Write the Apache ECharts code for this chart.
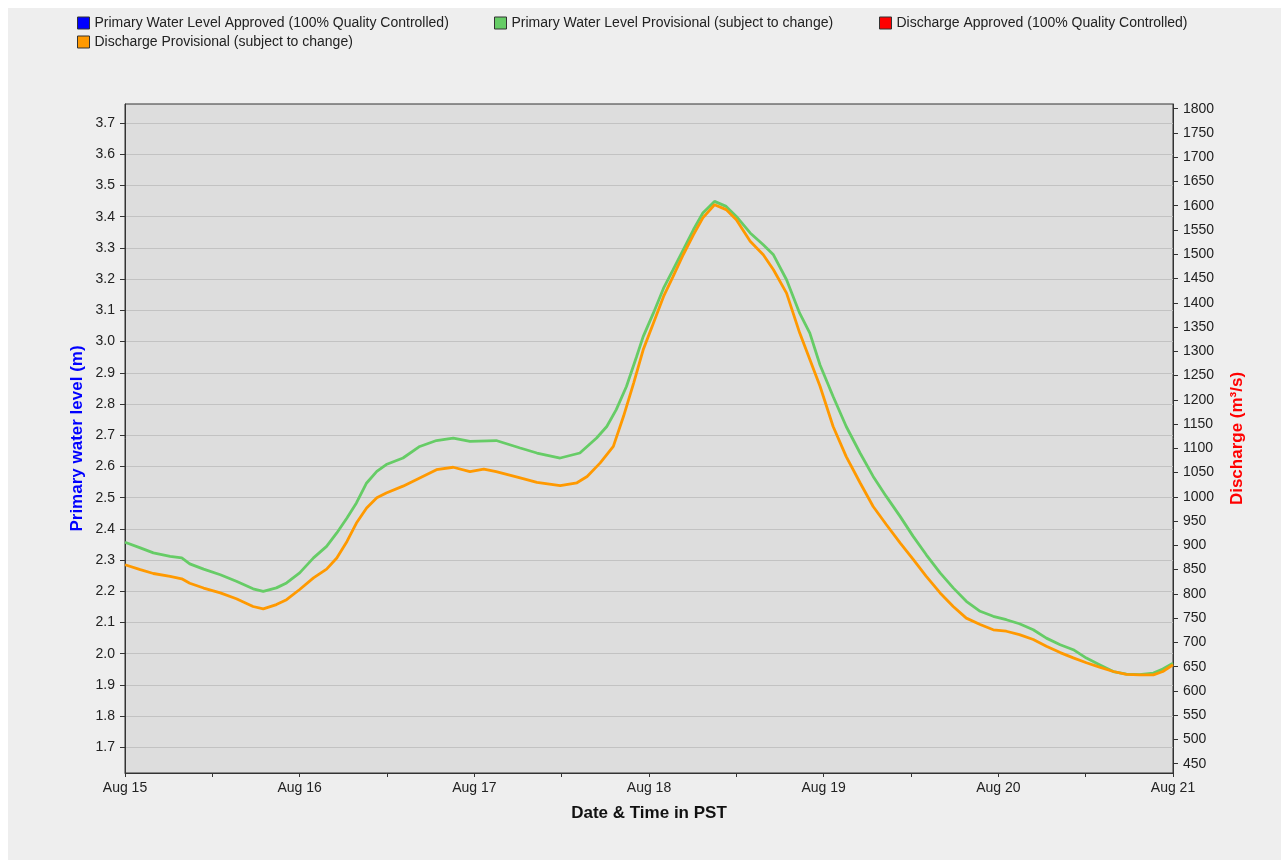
<!DOCTYPE html>
<html>
<head>
<meta charset="utf-8">
<script src="https://cdn.jsdelivr.net/npm/echarts@6/dist/echarts.min.js"></script>
<style>
html,body{margin:0;padding:0;background:#ffffff;}
#chart{width:1281px;height:863px;}
</style>
</head>
<body>
<div id="chart"></div>
<script>
// ---- data ----
const dayLabels = ['Aug 15', 'Aug 16', 'Aug 17', 'Aug 18', 'Aug 19', 'Aug 20', 'Aug 21'];
const levelTicks = [1.7, 1.8, 1.9, 2.0, 2.1, 2.2, 2.3, 2.4, 2.5, 2.6, 2.7, 2.8, 2.9, 3.0, 3.1, 3.2, 3.3, 3.4, 3.5, 3.6, 3.7];
const dischargeTicks = [450, 500, 550, 600, 650, 700, 750, 800, 850, 900, 950, 1000, 1050, 1100, 1150, 1200, 1250, 1300, 1350, 1400, 1450, 1500, 1550, 1600, 1650, 1700, 1750, 1800];

const seriesNames = [
  'Primary Water Level Approved (100% Quality Controlled)',
  'Primary Water Level Provisional (subject to change)',
  'Discharge Approved (100% Quality Controlled)',
  'Discharge Provisional (subject to change)'
];

// hours since Aug 15 00:00 PST
const levelHours = [0, 2.1, 3.9, 6.2, 7.8, 8.9, 10.8, 13.1, 15.3, 17.6, 19.0, 20.8, 22.2, 24.0, 25.9, 27.7, 29.1, 30.5, 31.8, 33.2, 34.6, 35.9, 38.2, 40.5, 42.8, 45.1, 47.4, 51.0, 54.3, 56.6, 59.8, 62.5, 64.8, 66.2, 67.5, 68.9, 70.3, 71.2, 72.6, 74.0, 75.3, 76.7, 78.1, 79.4, 81.0, 82.6, 84.0, 85.9, 87.7, 89.1, 90.9, 92.7, 94.1, 95.5, 97.3, 99.1, 101.0, 102.8, 104.6, 106.5, 108.3, 110.1, 112.0, 113.8, 115.6, 117.5, 119.3, 121.1, 122.9, 124.8, 126.6, 128.5, 130.3, 132.1, 133.9, 135.8, 137.6, 139.4, 141.3, 142.6, 144.0];
const levelValues = [2.357, 2.339, 2.323, 2.312, 2.307, 2.288, 2.271, 2.253, 2.232, 2.208, 2.200, 2.211, 2.227, 2.259, 2.307, 2.344, 2.387, 2.435, 2.483, 2.547, 2.584, 2.606, 2.627, 2.664, 2.683, 2.691, 2.680, 2.683, 2.659, 2.643, 2.627, 2.643, 2.691, 2.728, 2.782, 2.856, 2.952, 3.016, 3.091, 3.171, 3.230, 3.294, 3.358, 3.412, 3.449, 3.433, 3.401, 3.348, 3.310, 3.278, 3.198, 3.091, 3.027, 2.925, 2.824, 2.728, 2.643, 2.568, 2.504, 2.440, 2.376, 2.317, 2.259, 2.211, 2.168, 2.136, 2.120, 2.109, 2.096, 2.077, 2.050, 2.029, 2.013, 1.986, 1.965, 1.943, 1.935, 1.933, 1.938, 1.951, 1.970];

const dischargeHours = [0, 2.1, 3.9, 6.2, 7.8, 8.9, 10.8, 13.1, 15.3, 17.6, 19.0, 20.8, 22.2, 24.0, 25.9, 27.7, 29.1, 30.5, 31.8, 33.2, 34.6, 35.9, 38.2, 40.5, 42.8, 45.1, 47.4, 49.3, 51.0, 54.3, 56.6, 59.8, 62.1, 63.5, 65.3, 67.1, 68.5, 69.9, 71.2, 72.6, 74.0, 75.3, 76.7, 78.1, 79.4, 81.0, 82.6, 84.0, 85.9, 87.7, 89.1, 90.9, 92.7, 94.1, 95.5, 97.3, 99.1, 101.0, 102.8, 104.6, 106.5, 108.3, 110.1, 112.0, 113.8, 115.6, 117.5, 119.3, 121.1, 122.9, 124.8, 126.6, 128.5, 130.3, 132.1, 133.9, 135.8, 137.6, 139.4, 141.3, 142.6, 144.0];
const dischargeValues = [860, 850, 842, 836, 831, 822, 812, 802, 790, 774, 769, 778, 788, 809, 833, 851, 874, 908, 946, 977, 998, 1008, 1022, 1039, 1056, 1061, 1052, 1057, 1052, 1039, 1030, 1023, 1029, 1042, 1070, 1104, 1166, 1235, 1303, 1358, 1413, 1454, 1499, 1540, 1575, 1602, 1592, 1571, 1527, 1499, 1468, 1420, 1338, 1283, 1228, 1145, 1083, 1029, 980, 943, 905, 871, 836, 802, 774, 750, 737, 726, 723, 716, 706, 692, 679, 668, 658, 649, 640, 634, 633, 633, 640, 654];

// ---- chart ----
const FONT = 'Liberation Sans, Arial, sans-serif';
const chart = echarts.init(document.getElementById('chart'), null, {renderer: 'canvas'});

const pairs = (xs, ys) => xs.map((x, i) => [x, ys[i]]);

const legendCommon = {
  orient: 'horizontal', padding: 0, icon: 'rect', itemWidth: 12, itemHeight: 12, itemGap: 10,
  itemStyle: {borderColor: '#333333', borderWidth: 1},
  textStyle: {fontFamily: FONT, fontSize: 14, color: '#222222'}
};

const option = {
  animation: false,
  backgroundColor: '#ffffff',
  graphic: [{
    type: 'rect', z: -100, silent: true,
    shape: {x: 8, y: 8, width: 1273, height: 852},
    style: {fill: '#EEEEEE'}
  }],
  legend: [
    Object.assign({}, legendCommon, {left: 77, top: 16, data: [seriesNames[0]]}),
    Object.assign({}, legendCommon, {left: 494, top: 16, data: [seriesNames[1]]}),
    Object.assign({}, legendCommon, {left: 879, top: 16, data: [seriesNames[2]]}),
    Object.assign({}, legendCommon, {left: 77, top: 35, data: [seriesNames[3]]})
  ],
  grid: {
    left: 125, right: 108, top: 104, bottom: 90,
    show: true, backgroundColor: '#DDDDDD', borderColor: '#333333', borderWidth: 1,
    outerBoundsMode: 'none', containLabel: false
  },
  xAxis: {
    type: 'value', min: 0, max: 144, interval: 12,
    name: 'Date & Time in PST', nameLocation: 'middle', nameGap: 32,
    nameTextStyle: {fontFamily: FONT, fontSize: 17, fontWeight: 'bold', color: '#111111'},
    axisLine: {show: true, lineStyle: {color: '#333333', width: 1}},
    axisTick: {show: true, length: 4, lineStyle: {color: '#333333'}},
    axisLabel: {
      show: true, margin: 8, fontFamily: FONT, fontSize: 14, color: '#222222',
      showMinLabel: true, showMaxLabel: true,
      formatter: v => (v % 24 === 0 ? dayLabels[v / 24] : '')
    },
    splitLine: {show: false}
  },
  yAxis: [{
    type: 'value', position: 'left', min: 1.618, max: 3.761,
    name: 'Primary water level (m)', nameLocation: 'middle', nameGap: 39, nameRotate: 90,
    nameMoveOverlap: false,
    nameTextStyle: {fontFamily: FONT, fontSize: 17, fontWeight: 'bold', color: '#0000FF'},
    axisLine: {show: true, lineStyle: {color: '#333333', width: 1}},
    axisTick: {show: true, length: 5, customValues: levelTicks, lineStyle: {color: '#333333'}},
    axisLabel: {
      show: true, margin: 10, fontFamily: FONT, fontSize: 14, color: '#222222',
      customValues: levelTicks, formatter: v => v.toFixed(1)
    },
    splitLine: {show: true, lineStyle: {color: '#C2C2C2', width: 1}}
  }, {
    type: 'value', position: 'right', min: 430.8, max: 1809.7,
    name: 'Discharge (m³/s)', nameLocation: 'middle', nameGap: 56, nameRotate: 90,
    nameTextStyle: {fontFamily: FONT, fontSize: 17, fontWeight: 'bold', color: '#FF0000'},
    axisLine: {show: true, lineStyle: {color: '#333333', width: 1}},
    axisTick: {show: true, length: 5, customValues: dischargeTicks, lineStyle: {color: '#333333'}},
    axisLabel: {
      show: true, margin: 10, fontFamily: FONT, fontSize: 14, color: '#222222',
      customValues: dischargeTicks, formatter: v => String(v)
    },
    splitLine: {show: false}
  }],
  series: [{
    name: seriesNames[0], type: 'line', yAxisIndex: 0, data: [],
    itemStyle: {color: '#0000FF'}, lineStyle: {color: '#0000FF', width: 2.5}, showSymbol: false
  }, {
    name: seriesNames[1], type: 'line', yAxisIndex: 0, data: pairs(levelHours, levelValues),
    itemStyle: {color: '#66CC66'}, lineStyle: {color: '#66CC66', width: 2.8}, showSymbol: false, symbol: 'none', z: 2
  }, {
    name: seriesNames[2], type: 'line', yAxisIndex: 1, data: [],
    itemStyle: {color: '#FF0000'}, lineStyle: {color: '#FF0000', width: 2.5}, showSymbol: false
  }, {
    name: seriesNames[3], type: 'line', yAxisIndex: 1, data: pairs(dischargeHours, dischargeValues),
    itemStyle: {color: '#FF9900'}, lineStyle: {color: '#FF9900', width: 2.8}, showSymbol: false, symbol: 'none', z: 3
  }]
};
chart.setOption(option);
</script>
</body>
</html>
